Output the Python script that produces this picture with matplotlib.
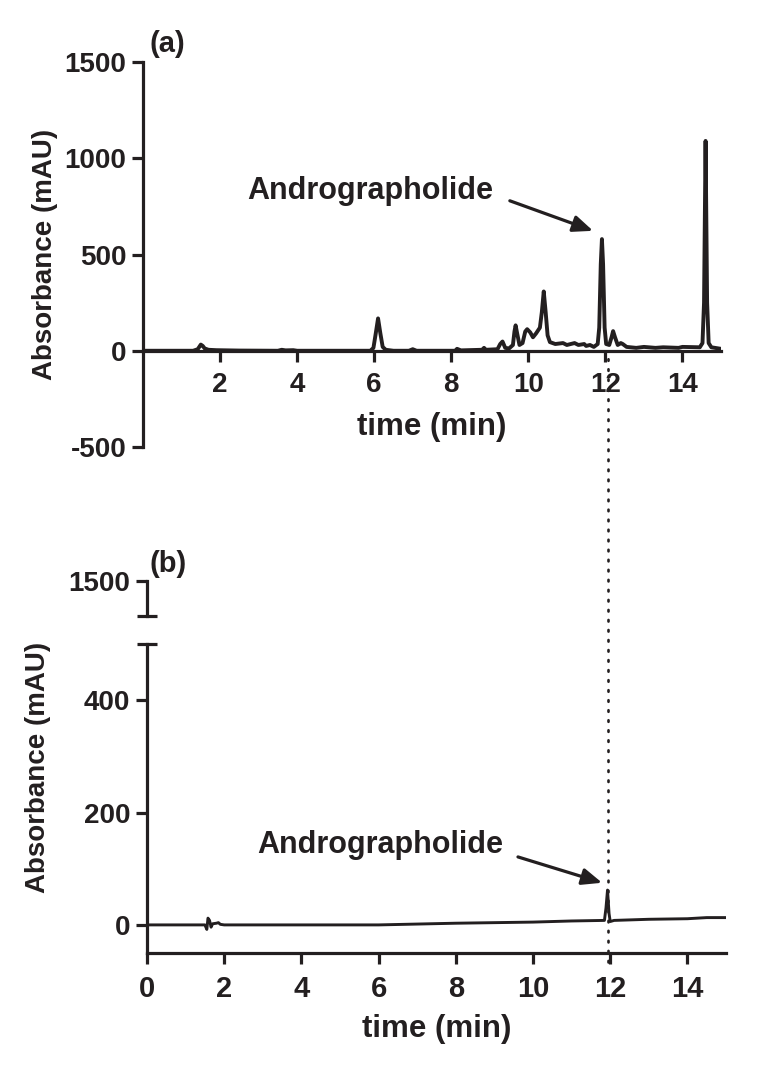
import matplotlib
matplotlib.use('Agg')
import matplotlib.pyplot as plt
import matplotlib.transforms as mtransforms

plt.rcParams['font.family'] = ['Liberation Sans', 'DejaVu Sans']
plt.rcParams['font.weight'] = 'bold'
plt.rcParams['axes.unicode_minus'] = False

# chromatogram (a) - extract, time (min) / absorbance (mAU)
time_a = [0.0, 1.3, 1.42, 1.5, 1.55, 1.6, 1.7, 1.9, 2.2, 2.5, 3.5, 3.6, 3.7, 3.9, 4.0,
          5.9, 5.98, 6.04, 6.1, 6.16, 6.22, 6.3, 6.5, 6.9, 7.0, 7.1, 8.1, 8.15, 8.25,
          8.8, 8.85, 8.9, 9.2, 9.27, 9.33, 9.4, 9.5, 9.6, 9.64, 9.67, 9.71, 9.77, 9.85,
          9.92, 9.97, 10.05, 10.12, 10.2, 10.3, 10.35, 10.4, 10.45, 10.5, 10.56, 10.7,
          10.9, 11.0, 11.2, 11.3, 11.45, 11.5, 11.6, 11.7, 11.8, 11.84, 11.88, 11.91,
          11.94, 11.98, 12.02, 12.1, 12.16, 12.2, 12.25, 12.32, 12.4, 12.45, 12.55,
          12.8, 13.0, 13.3, 13.5, 13.9, 14.0, 14.45, 14.52, 14.56, 14.6, 14.64, 14.68,
          14.75, 15.0]
abs_a = [0, 0, 8, 32, 25, 12, 5, 3, 2, 1, 0, 5, 2, 3, 0,
         0, 15, 90, 168, 90, 20, 5, 0, 0, 8, 0, 0, 10, 2,
         5, 15, 5, 8, 35, 48, 15, 12, 30, 100, 132, 90, 30, 40,
         100, 112, 95, 70, 90, 120, 200, 308, 200, 80, 45, 35,
         40, 30, 40, 30, 35, 25, 30, 20, 35, 120, 450, 580,
         450, 120, 35, 30, 70, 102, 70, 30, 40, 35, 20,
         15, 20, 15, 18, 15, 20, 18, 40, 250, 1090, 250, 40,
         18, 10]

# chromatogram (b) - standard
time_b = [0.0, 1.5, 1.55, 1.58, 1.62, 1.66, 1.7, 1.8, 1.85, 1.9, 2.0, 6.0, 8.0, 10.0,
          11.0, 11.85, 11.89, 11.93, 11.97, 12.0, 12.1, 13.0, 14.0, 14.5, 15.0]
abs_b = [0, 0, -8, 12, 8, -4, 2, 3, 4, 1, 0, 0, 3, 5,
         7, 8, 30, 62, 20, 6, 8, 10, 11, 13, 13]

xticks_a = [2, 4, 6, 8, 10, 12, 14]
yticks_a = [-500, 0, 500, 1000, 1500]
xticks_b = [0, 2, 4, 6, 8, 10, 12, 14]
yticks_b = [0, 200, 400]
yticks_b_top = [1500]
peak_time = 11.93
peak_name = 'Andrographolide'

ink = '#231f20'
lw = 2.3

fig = plt.figure(figsize=(7.64, 10.8), dpi=100)

# ---- panel (a)
ax_a = fig.add_axes([0.1872, 0.5861, 0.7565, 0.3565])
ax_a.plot(time_a, abs_a, color=ink, lw=2.8, solid_joinstyle='round')
ax_a.set_xlim(0, 15)
ax_a.set_ylim(-500, 1500)
ax_a.set_xticks(xticks_a)
ax_a.set_yticks(yticks_a)
ax_a.spines['right'].set_visible(False)
ax_a.spines['top'].set_visible(False)
ax_a.spines['bottom'].set_position(('data', 0))
for s in ax_a.spines.values():
    s.set_linewidth(lw)
    s.set_color(ink)
ax_a.tick_params(axis='both', direction='out', length=8, width=lw, color=ink,
                 labelsize=20, labelcolor=ink)
ax_a.tick_params(axis='x', pad=7)
ax_a.tick_params(axis='y', pad=4)
ax_a.annotate('', xy=(11.68, 623), xytext=(9.52, 779),
              arrowprops=dict(arrowstyle='-|>,head_length=0.6,head_width=0.25',
                              lw=lw, color=ink, mutation_scale=20, shrinkA=0, shrinkB=0))
ax_a.text(2.7, 831, peak_name, fontsize=22, ha='left', va='center', color=ink)

# ---- panel (b), broken y axis
ax_b = fig.add_axes([0.1924, 0.1176, 0.7579, 0.2861])
ax_c = fig.add_axes([0.1924, 0.4296, 0.7579, 0.0324])

ax_b.plot(time_b, abs_b, color=ink, lw=2.1, solid_joinstyle='round')
ax_b.set_xlim(0, 15)
ax_b.set_ylim(-50, 500)
ax_b.set_xticks(xticks_b)
ax_b.set_yticks(yticks_b)
ax_b.spines['right'].set_visible(False)
ax_b.spines['top'].set_visible(False)
for s in ax_b.spines.values():
    s.set_linewidth(lw)
    s.set_color(ink)
ax_b.tick_params(axis='both', direction='out', length=8, width=lw, color=ink,
                 labelsize=20, labelcolor=ink)
ax_b.tick_params(axis='x', pad=8, labelsize=21)
ax_b.tick_params(axis='y', pad=4)
ax_b.annotate('', xy=(11.79, 75), xytext=(9.61, 121),
              arrowprops=dict(arrowstyle='-|>,head_length=0.6,head_width=0.25',
                              lw=lw, color=ink, mutation_scale=20, shrinkA=0, shrinkB=0))
ax_b.text(2.85, 142, peak_name, fontsize=22, ha='left', va='center', color=ink)

ax_c.set_xlim(0, 15)
ax_c.set_ylim(1440, 1500)
ax_c.set_yticks(yticks_b_top)
ax_c.set_xticks([])
ax_c.patch.set_visible(False)
for k in ['right', 'top', 'bottom']:
    ax_c.spines[k].set_visible(False)
ax_c.spines['left'].set_linewidth(lw)
ax_c.spines['left'].set_color(ink)
ax_c.tick_params(axis='y', direction='out', length=8, width=lw, color=ink,
                 labelsize=20, labelcolor=ink, pad=4)

# break caps
ax_c.plot([0], [0], marker='_', ms=14, mew=lw, color=ink, transform=ax_c.transAxes, clip_on=False)
ax_b.plot([0], [1], marker='_', ms=14, mew=lw, color=ink, transform=ax_b.transAxes, clip_on=False)

# dotted guide through the andrographolide peak
tr = mtransforms.blended_transform_factory(ax_b.transData, fig.transFigure)
ax_b.plot([peak_time, peak_time], [0.109, 0.674], transform=tr, clip_on=False,
          color=ink, lw=1.9, dashes=(0.6, 3.2), dash_capstyle='round')

# labels
fig.text(0.0589, 0.764, 'Absorbance (mAU)', rotation=90, fontsize=20, ha='center', va='center', color=ink)
fig.text(0.0497, 0.2898, 'Absorbance (mAU)', rotation=90, fontsize=20, ha='center', va='center', color=ink)
fig.text(0.5654, 0.6046, 'time (min)', fontsize=22.5, ha='center', va='center', color=ink)
fig.text(0.571, 0.047, 'time (min)', fontsize=22.5, ha='center', va='center', color=ink)
fig.text(0.2186, 0.9593, '(a)', fontsize=21, ha='center', va='center', color=ink)
fig.text(0.2199, 0.4778, '(b)', fontsize=21, ha='center', va='center', color=ink)

fig.savefig('out.png', dpi=100)
